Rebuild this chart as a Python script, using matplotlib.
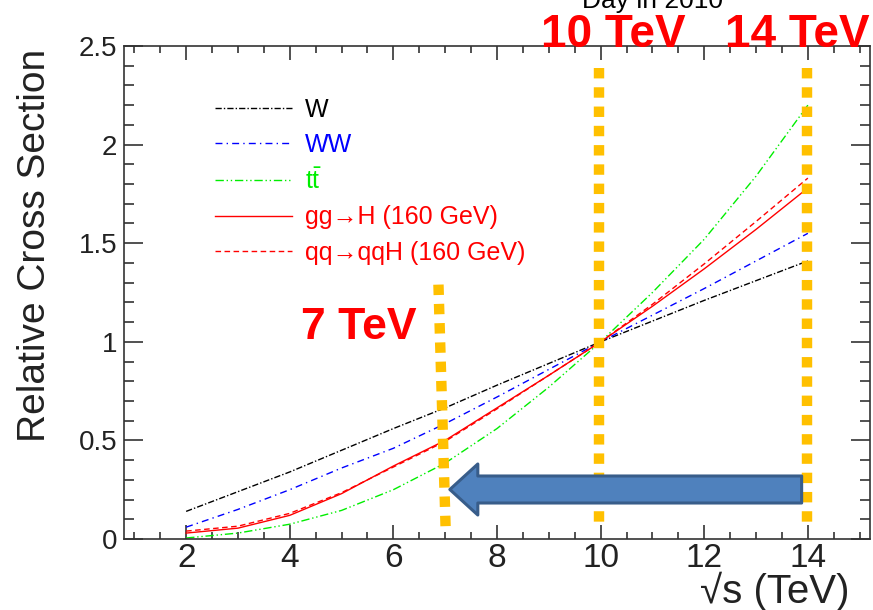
import numpy as np
import matplotlib.pyplot as plt
from matplotlib.patches import FancyArrow

plt.rcParams['font.family'] = ['Liberation Sans', 'DejaVu Sans']
plt.rcParams['mathtext.fontset'] = 'custom'
plt.rcParams['mathtext.rm'] = 'Liberation Sans'

# cross sections relative to 10 TeV
sqrt_s = [2, 3, 4, 5, 6, 7, 8, 9, 10, 11, 12, 13, 14]
w_xs = [0.14, 0.24, 0.34, 0.45, 0.56, 0.665, 0.78, 0.89, 1.0, 1.105, 1.21, 1.31, 1.41]
ww_xs = [0.06, 0.15, 0.25, 0.36, 0.46, 0.585, 0.72, 0.86, 1.0, 1.135, 1.27, 1.41, 1.55]
tt_xs = [0.005, 0.03, 0.075, 0.145, 0.25, 0.385, 0.56, 0.77, 1.0, 1.25, 1.52, 1.84, 2.2]
ggh_xs = [0.03, 0.055, 0.12, 0.23, 0.37, 0.5, 0.665, 0.83, 1.0, 1.18, 1.37, 1.57, 1.78]
qqh_xs = [0.04, 0.065, 0.13, 0.235, 0.365, 0.495, 0.66, 0.83, 1.0, 1.19, 1.395, 1.61, 1.83]

labels = ['W', 'WW', r'$\mathregular{t\bar{t}}$', 'gg\u2192H (160 GeV)', 'qq\u2192qqH (160 GeV)']
colors = ['black', '#0000ff', '#00ee00', '#ff0000', '#ff0000']
styles = [(0, (4.5, 1.5, 1, 1.5)), (0, (5, 3, 1, 3)), (0, (6, 2, 1, 2, 1, 2)), '-', (0, (4, 2.5))]

# energies marked with the yellow lines
marks = ['7 TeV', '10 TeV', '14 TeV']
mark_x0 = [6.87, 9.97, 13.99]
mark_x1 = [7.01, 9.97, 13.99]
mark_ytop = [1.29, 2.39, 2.39]
mark_ybot = [0.04, 0.065, 0.06]

fig = plt.figure(figsize=(8.73, 6.10), dpi=100)
ax = fig.add_axes([0.142, 0.1164, 0.8546, 0.8082])

series = [w_xs, ww_xs, tt_xs, ggh_xs, qqh_xs]
for ys, lab, c, ls in zip(series, labels, colors, styles):
    ax.plot(sqrt_s, ys, color=c, linestyle=ls, lw=1.0, label=lab)

for x0, x1, yt, yb in zip(mark_x0, mark_x1, mark_ytop, mark_ybot):
    ax.plot([x0, x1], [yt, yb], color='#ffc000', lw=7.5, linestyle=(0, (1.0, 0.85)),
            solid_capstyle='butt', dash_capstyle='butt', zorder=3)

arrow = FancyArrow(13.88, 0.251, -6.79, 0, width=0.137, head_width=0.259, head_length=0.54,
                   length_includes_head=True, facecolor='#4f81bd', edgecolor='#385d8a',
                   lw=2.2, joinstyle='round', zorder=4)
ax.add_patch(arrow)

ax.set_xlim(0.8, 15.2)
ax.set_ylim(0, 2.5)
ax.set_xticks([2, 4, 6, 8, 10, 12, 14])
ax.set_xticks(np.arange(1, 15.01, 0.5), minor=True)
ax.set_yticks([0, 0.5, 1, 1.5, 2, 2.5])
ax.set_yticklabels(['0', '0.5', '1', '1.5', '2', '2.5'])
ax.set_yticks(np.arange(0, 2.51, 0.1), minor=True)
ax.tick_params(which='both', direction='in', top=True, right=True, width=1.1, colors='#222222')
ax.tick_params(axis='x', which='major', length=10, labelsize=24, pad=3)
ax.tick_params(axis='x', which='minor', length=5)
ax.tick_params(axis='y', which='major', length=14, labelsize=20, pad=5)
ax.tick_params(axis='y', which='minor', length=7)
for sp in ax.spines.values():
    sp.set_linewidth(1.2)
    sp.set_color('#333333')

fig.text(35 / 873, 1 - 245 / 610, 'Relative Cross Section', rotation=90, ha='center', va='center',
         fontsize=28, color='#222222')
fig.text(850 / 873, 1 - 603 / 610, '\u221as (TeV)', ha='right', va='baseline', fontsize=29, color='#222222')
fig.text(652 / 873, 1 - 8 / 610, 'Day in 2010', ha='center', va='baseline', fontsize=19)

fig.text(613 / 873, 1 - 47 / 610, marks[1], ha='center', va='baseline', fontsize=33,
         fontweight='bold', color='#ff0000')
fig.text(797 / 873, 1 - 47 / 610, marks[2], ha='center', va='baseline', fontsize=33,
         fontweight='bold', color='#ff0000')
fig.text(359 / 873, 1 - 339 / 610, marks[0], ha='center', va='baseline', fontsize=32,
         fontweight='bold', color='#ff0000')

leg = ax.legend(loc='upper left', bbox_to_anchor=(0.108, 0.915), frameon=False, fontsize=18,
                handlelength=3.1, handletextpad=0.5, labelspacing=0.45, borderaxespad=0)
for txt, c in zip(leg.get_texts(), colors):
    txt.set_color(c)

fig.savefig('out.png', dpi=100)
